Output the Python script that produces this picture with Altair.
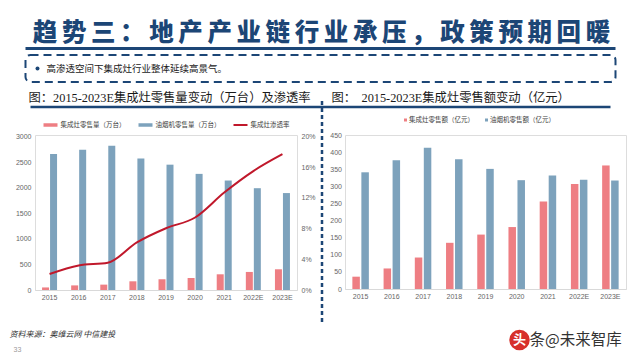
import altair as alt
import pandas as pd

# ---------------- data ----------------
years = ["2015", "2016", "2017", "2018", "2019", "2020", "2021", "2022E", "2023E"]
jcz_volume = [50, 90, 105, 170, 210, 235, 307, 353, 405]          # 集成灶零售量（万台）
yyj_volume = [2660, 2740, 2820, 2570, 2450, 2270, 2140, 1990, 1895]  # 油烟机零售量（万台）
jcz_penetration = [0.0208, 0.032, 0.0355, 0.062, 0.0805, 0.0945, 0.127, 0.155, 0.177]  # 集成灶渗透率
jcz_sales = [36, 60, 92, 135, 159, 181, 256, 307, 361]            # 集成灶零售额（亿元）
yyj_sales = [341, 376, 413, 379, 351, 318, 332, 319, 317]         # 油烟机零售额（亿元）

left_series = ["集成灶零售量（万台）", "油烟机零售量（万台）"]
line_name = "集成灶渗透率"
right_series = ["集成灶零售额（亿元）", "油烟机零售额（亿元）"]
left_ticks = [0, 500, 1000, 1500, 2000, 2500, 3000]
pct_ticks = [0, 0.04, 0.08, 0.12, 0.16, 0.20]
right_ticks = [0, 50, 100, 150, 200, 250, 300, 350, 400, 450]

slide_title = "趋势三：地产产业链行业承压，政策预期回暖"
bullet_text = "高渗透空间下集成灶行业整体延续高景气。"
left_title = "图：2015-2023E集成灶零售量变动（万台）及渗透率"
right_title_a = "图："
right_title_b = "2015-2023E集成灶零售额变动（亿元）"
source_text = "资料来源：奥维云网    中信建投"
page_no = "33"

# ---------------- styles ----------------
PINK = "#EE7E83"
BLUE = "#7DA2BC"
RED = "#C0182B"
NAVY = "#1C4676"
LABEL = "#666666"
CJK = "Noto Sans CJK SC"
SERIF = "'Liberation Serif', 'Noto Sans CJK SC'"
SANS = "'Liberation Sans', 'Noto Sans CJK SC'"

# plot-area origins on the page (page coords incl. 8px margin)
OX, OY = 34.5, 134.0
LW, LH = 262, 155
RW, RH = 281, 154
GAP = 48

left_pink_df = pd.DataFrame({"year": years, "value": jcz_volume, "series": left_series[0]})
left_blue_df = pd.DataFrame({"year": years, "value": yyj_volume, "series": left_series[1]})
line_df = pd.DataFrame({"year": years, "pct": jcz_penetration, "name": [line_name] * len(years)})
right_pink_df = pd.DataFrame({"year": years, "value": jcz_sales, "series": right_series[0]})
right_blue_df = pd.DataFrame({"year": years, "value": yyj_sales, "series": right_series[1]})
one = pd.DataFrame({"d": [0]})

axis_common = dict(ticks=False, grid=False, labelFontSize=7, labelColor=LABEL, labelFont=SANS)


def rx(px):
    return px - OX


def ry(py):
    return py - OY


def text(s, x, y, size, color="#222222", font=CJK, weight="normal", align="left", style="normal"):
    return alt.Chart(one).mark_text(
        fontSize=size, color=color, font=font, fontWeight=weight, align=align,
        baseline="middle", fontStyle=style
    ).encode(x=alt.value(rx(x)), y=alt.value(ry(y)), text=alt.value(s))


def hrule(x1, x2, y, color, width, dash=None):
    kw = dict(color=color, strokeWidth=width)
    if dash:
        kw["strokeDash"] = dash
    return alt.Chart(one).mark_rule(**kw).encode(
        x=alt.value(rx(x1)), x2=alt.value(rx(x2)), y=alt.value(ry(y)))


def vrule(x, y1, y2, color, width, dash=None):
    kw = dict(color=color, strokeWidth=width)
    if dash:
        kw["strokeDash"] = dash
    return alt.Chart(one).mark_rule(**kw).encode(
        x=alt.value(rx(x)), y=alt.value(ry(y1)), y2=alt.value(ry(y2)))


decor = []
# anchor fixing the top-left corner of the whole drawing at the page origin
decor.append(alt.Chart(one).mark_rect(color="white").encode(
    x=alt.value(rx(8)), x2=alt.value(rx(9)), y=alt.value(ry(8)), y2=alt.value(ry(9))))
# slide title, one glyph per cell
cell = 582 / len(slide_title)
for k, ch in enumerate(slide_title):
    decor.append(text(ch, 30 + cell * (k + 0.5), 33, 24.5, color=NAVY, weight=900, align="center"))
decor.append(hrule(25, 615, 47.5, NAVY, 3))
# dashed box
decor.append(alt.Chart(one).mark_rect(filled=False, stroke=NAVY, strokeWidth=2, strokeDash=[8, 5],
                                      cornerRadius=5).encode(
    x=alt.value(rx(25)), x2=alt.value(rx(615)), y=alt.value(ry(54)), y2=alt.value(ry(81))))
decor.append(alt.Chart(one).mark_circle(size=16, color=NAVY, opacity=1).encode(
    x=alt.value(rx(37)), y=alt.value(ry(67.5))))
decor.append(text(bullet_text, 46, 67.5, 9.5, color="#1a1a1a"))
# panel titles
decor.append(text(left_title, 28, 97, 12.3, color="#1a1a1a", font=SERIF))
decor.append(text(right_title_a, 331, 97, 12.3, color="#1a1a1a", font=SERIF))
decor.append(text(right_title_b, 361, 97, 12.3, color="#1a1a1a", font=SERIF))
decor.append(hrule(30, 610, 106, NAVY, 2.5))
decor.append(vrule(321.5, 100, 322, NAVY, 2.5, dash=[4, 3]))
# left legend
for (x0, col, w, lab) in [(43, PINK, 3.5, left_series[0]), (138, BLUE, 3.5, left_series[1]),
                          (233, RED, 2, line_name)]:
    decor.append(hrule(x0, x0 + 14, 124, col, w))
    decor.append(text(lab, x0 + 17, 124, 6.5, color="#404040", font=SERIF))
# right legend
for (x0, col, lab) in [(405, PINK, right_series[0]), (486, BLUE, right_series[1])]:
    decor.append(alt.Chart(one).mark_square(size=9, color=col, opacity=1).encode(
        x=alt.value(rx(x0)), y=alt.value(ry(119))))
    decor.append(text(lab, x0 + 3.5, 119, 6.5, color="#404040", font=SERIF))
# footer
decor.append(text(source_text, 9, 334, 8, color="#333333", style="italic"))
decor.append(text(page_no, 13, 348.5, 7, color="#9a9a9a", font=SANS))
# watermark
decor.append(alt.Chart(one).mark_circle(size=420, color="#D7302B", opacity=1).encode(
    x=alt.value(rx(519)), y=alt.value(ry(339))))
decor.append(text("头", 519, 339, 13, color="white", weight="bold", align="center"))
decor.append(text("条@未来智库", 529, 339, 15.5, color="#333333"))

# ---------------- left panel ----------------
x_left = alt.X("year:N", sort=years, title=None,
               scale=alt.Scale(paddingInner=0.42, paddingOuter=0.21),
               axis=alt.Axis(labelAngle=0, domainColor="#D9D9D9", labelPadding=3, **axis_common))
y_left = alt.Y("value:Q", title=None, scale=alt.Scale(domain=[0, 3030], nice=False),
               axis=alt.Axis(orient="left", values=left_ticks, format="d", domain=False,
                             labelPadding=4, **axis_common))

bars_left_pink = alt.Chart(left_pink_df).mark_bar(color=PINK, width=7, xOffset=-4).encode(
    x=x_left, y=y_left)
bars_left_blue = alt.Chart(left_blue_df).mark_bar(color=BLUE, width=7, xOffset=4).encode(
    x=x_left, y=y_left)

line_left = alt.Chart(line_df).mark_line(color=RED, strokeWidth=2, interpolate="monotone").encode(
    x=alt.X("year:N", sort=years),
    y=alt.Y("pct:Q", title=None, scale=alt.Scale(domain=[0, 0.202], nice=False),
            axis=alt.Axis(orient="right", values=pct_ticks, format=".0%", domain=False,
                          labelPadding=4, **axis_common)),
)

bars_left = alt.layer(bars_left_pink, bars_left_blue)
left = alt.layer(bars_left, line_left, *decor).resolve_scale(y="independent").properties(
    width=LW, height=LH)

# ---------------- right panel ----------------
x_right = alt.X("year:N", sort=years, title=None,
                scale=alt.Scale(paddingInner=0.46, paddingOuter=0.23),
                axis=alt.Axis(labelAngle=0, domainColor="#D9D9D9", labelPadding=3, **axis_common))
y_right = alt.Y("value:Q", title=None, scale=alt.Scale(domain=[0, 450], nice=False),
                axis=alt.Axis(values=right_ticks, domain=False, labelPadding=3.5, **axis_common))

right = alt.layer(
    alt.Chart(right_pink_df).mark_bar(color=PINK, width=7.5, xOffset=-4.5).encode(x=x_right, y=y_right),
    alt.Chart(right_blue_df).mark_bar(color=BLUE, width=7.5, xOffset=4.5).encode(x=x_right, y=y_right),
).properties(width=RW, height=RH)

chart = alt.hconcat(left, right, spacing=GAP, bounds="flush").resolve_scale(
    x="independent", y="independent"
).properties(padding=0).configure_view(strokeWidth=0).configure(background="white")

chart.save("out.html", embed_options={"renderer": "svg", "actions": False})
